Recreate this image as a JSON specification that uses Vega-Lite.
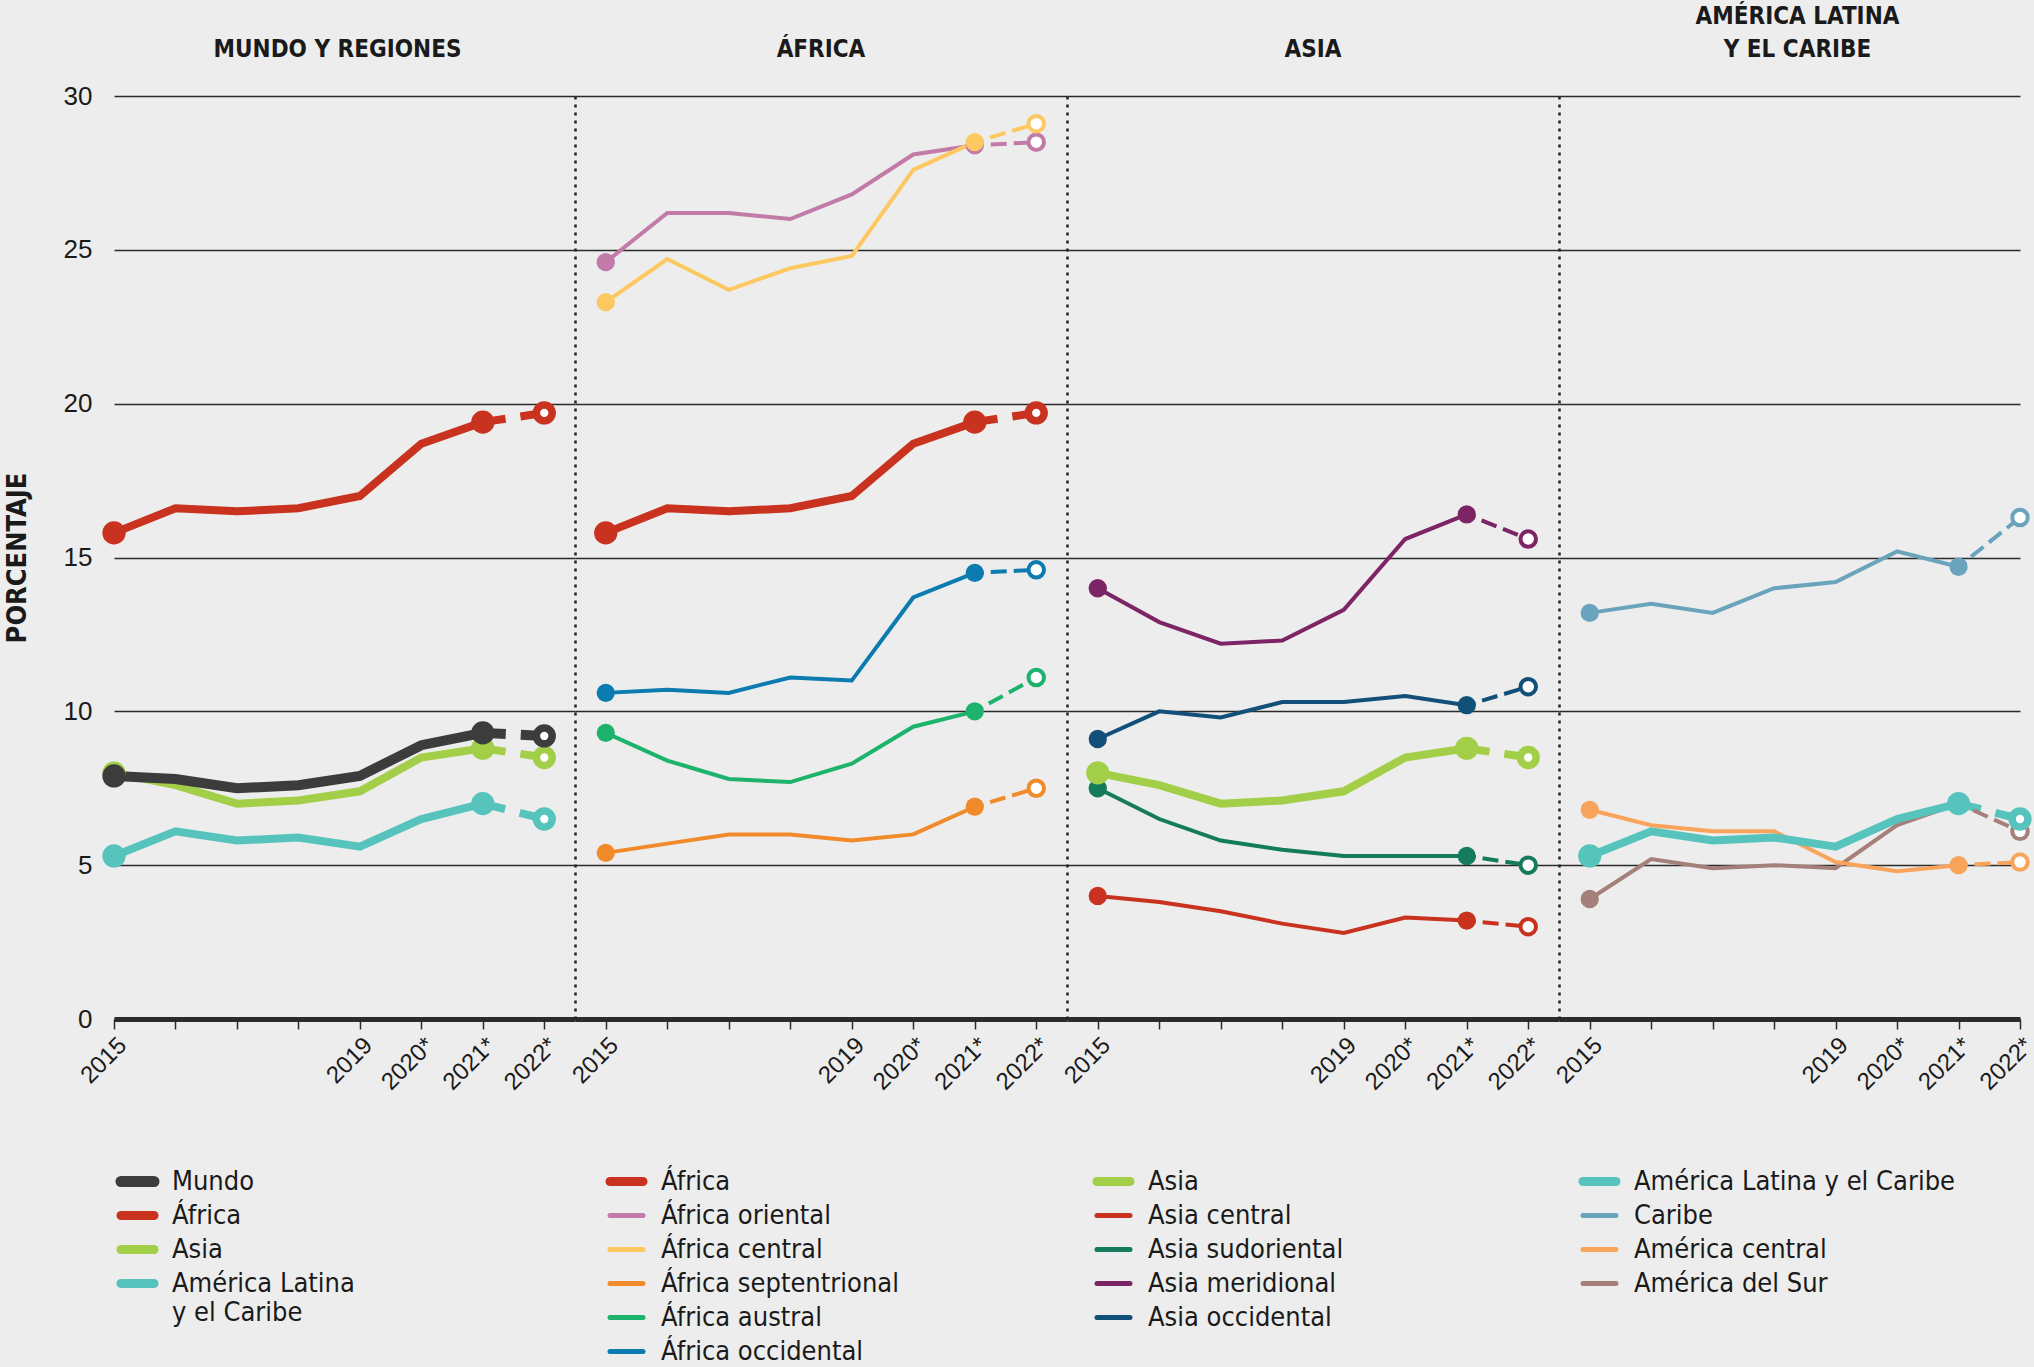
{
  "$schema": "https://vega.github.io/schema/vega-lite/v6.json",
  "background": "#ededed",
  "autosize": {"type": "pad"},
  "padding": {"left": 3, "top": 5, "right": 12, "bottom": 6},
  "data": {"values": [
    {"panel":1,"serie":"África","year":2015,"value":15.8},{"panel":1,"serie":"África","year":2016,"value":16.6},{"panel":1,"serie":"África","year":2017,"value":16.5},{"panel":1,"serie":"África","year":2018,"value":16.6},{"panel":1,"serie":"África","year":2019,"value":17.0},{"panel":1,"serie":"África","year":2020,"value":18.7},{"panel":1,"serie":"África","year":2021,"value":19.4},{"panel":1,"serie":"África","year":2022,"value":19.7},
    {"panel":1,"serie":"América Latina y el Caribe","year":2015,"value":5.3},{"panel":1,"serie":"América Latina y el Caribe","year":2016,"value":6.1},{"panel":1,"serie":"América Latina y el Caribe","year":2017,"value":5.8},{"panel":1,"serie":"América Latina y el Caribe","year":2018,"value":5.9},{"panel":1,"serie":"América Latina y el Caribe","year":2019,"value":5.6},{"panel":1,"serie":"América Latina y el Caribe","year":2020,"value":6.5},{"panel":1,"serie":"América Latina y el Caribe","year":2021,"value":7.0},{"panel":1,"serie":"América Latina y el Caribe","year":2022,"value":6.5},
    {"panel":1,"serie":"Asia","year":2015,"value":8.0},{"panel":1,"serie":"Asia","year":2016,"value":7.6},{"panel":1,"serie":"Asia","year":2017,"value":7.0},{"panel":1,"serie":"Asia","year":2018,"value":7.1},{"panel":1,"serie":"Asia","year":2019,"value":7.4},{"panel":1,"serie":"Asia","year":2020,"value":8.5},{"panel":1,"serie":"Asia","year":2021,"value":8.8},{"panel":1,"serie":"Asia","year":2022,"value":8.5},
    {"panel":1,"serie":"Mundo","year":2015,"value":7.9},{"panel":1,"serie":"Mundo","year":2016,"value":7.8},{"panel":1,"serie":"Mundo","year":2017,"value":7.5},{"panel":1,"serie":"Mundo","year":2018,"value":7.6},{"panel":1,"serie":"Mundo","year":2019,"value":7.9},{"panel":1,"serie":"Mundo","year":2020,"value":8.9},{"panel":1,"serie":"Mundo","year":2021,"value":9.3},{"panel":1,"serie":"Mundo","year":2022,"value":9.2},

    {"panel":2,"serie":"África septentrional","year":2015,"value":5.4},{"panel":2,"serie":"África septentrional","year":2016,"value":5.7},{"panel":2,"serie":"África septentrional","year":2017,"value":6.0},{"panel":2,"serie":"África septentrional","year":2018,"value":6.0},{"panel":2,"serie":"África septentrional","year":2019,"value":5.8},{"panel":2,"serie":"África septentrional","year":2020,"value":6.0},{"panel":2,"serie":"África septentrional","year":2021,"value":6.9},{"panel":2,"serie":"África septentrional","year":2022,"value":7.5},
    {"panel":2,"serie":"África austral","year":2015,"value":9.3},{"panel":2,"serie":"África austral","year":2016,"value":8.4},{"panel":2,"serie":"África austral","year":2017,"value":7.8},{"panel":2,"serie":"África austral","year":2018,"value":7.7},{"panel":2,"serie":"África austral","year":2019,"value":8.3},{"panel":2,"serie":"África austral","year":2020,"value":9.5},{"panel":2,"serie":"África austral","year":2021,"value":10.0},{"panel":2,"serie":"África austral","year":2022,"value":11.1},
    {"panel":2,"serie":"África occidental","year":2015,"value":10.6},{"panel":2,"serie":"África occidental","year":2016,"value":10.7},{"panel":2,"serie":"África occidental","year":2017,"value":10.6},{"panel":2,"serie":"África occidental","year":2018,"value":11.1},{"panel":2,"serie":"África occidental","year":2019,"value":11.0},{"panel":2,"serie":"África occidental","year":2020,"value":13.7},{"panel":2,"serie":"África occidental","year":2021,"value":14.5},{"panel":2,"serie":"África occidental","year":2022,"value":14.6},
    {"panel":2,"serie":"África oriental","year":2015,"value":24.6},{"panel":2,"serie":"África oriental","year":2016,"value":26.2},{"panel":2,"serie":"África oriental","year":2017,"value":26.2},{"panel":2,"serie":"África oriental","year":2018,"value":26.0},{"panel":2,"serie":"África oriental","year":2019,"value":26.8},{"panel":2,"serie":"África oriental","year":2020,"value":28.1},{"panel":2,"serie":"África oriental","year":2021,"value":28.4},{"panel":2,"serie":"África oriental","year":2022,"value":28.5},
    {"panel":2,"serie":"África central","year":2015,"value":23.3},{"panel":2,"serie":"África central","year":2016,"value":24.7},{"panel":2,"serie":"África central","year":2017,"value":23.7},{"panel":2,"serie":"África central","year":2018,"value":24.4},{"panel":2,"serie":"África central","year":2019,"value":24.8},{"panel":2,"serie":"África central","year":2020,"value":27.6},{"panel":2,"serie":"África central","year":2021,"value":28.5},{"panel":2,"serie":"África central","year":2022,"value":29.1},
    {"panel":2,"serie":"África","year":2015,"value":15.8},{"panel":2,"serie":"África","year":2016,"value":16.6},{"panel":2,"serie":"África","year":2017,"value":16.5},{"panel":2,"serie":"África","year":2018,"value":16.6},{"panel":2,"serie":"África","year":2019,"value":17.0},{"panel":2,"serie":"África","year":2020,"value":18.7},{"panel":2,"serie":"África","year":2021,"value":19.4},{"panel":2,"serie":"África","year":2022,"value":19.7},

    {"panel":3,"serie":"Asia central","year":2015,"value":4.0},{"panel":3,"serie":"Asia central","year":2016,"value":3.8},{"panel":3,"serie":"Asia central","year":2017,"value":3.5},{"panel":3,"serie":"Asia central","year":2018,"value":3.1},{"panel":3,"serie":"Asia central","year":2019,"value":2.8},{"panel":3,"serie":"Asia central","year":2020,"value":3.3},{"panel":3,"serie":"Asia central","year":2021,"value":3.2},{"panel":3,"serie":"Asia central","year":2022,"value":3.0},
    {"panel":3,"serie":"Asia sudoriental","year":2015,"value":7.5},{"panel":3,"serie":"Asia sudoriental","year":2016,"value":6.5},{"panel":3,"serie":"Asia sudoriental","year":2017,"value":5.8},{"panel":3,"serie":"Asia sudoriental","year":2018,"value":5.5},{"panel":3,"serie":"Asia sudoriental","year":2019,"value":5.3},{"panel":3,"serie":"Asia sudoriental","year":2020,"value":5.3},{"panel":3,"serie":"Asia sudoriental","year":2021,"value":5.3},{"panel":3,"serie":"Asia sudoriental","year":2022,"value":5.0},
    {"panel":3,"serie":"Asia occidental","year":2015,"value":9.1},{"panel":3,"serie":"Asia occidental","year":2016,"value":10.0},{"panel":3,"serie":"Asia occidental","year":2017,"value":9.8},{"panel":3,"serie":"Asia occidental","year":2018,"value":10.3},{"panel":3,"serie":"Asia occidental","year":2019,"value":10.3},{"panel":3,"serie":"Asia occidental","year":2020,"value":10.5},{"panel":3,"serie":"Asia occidental","year":2021,"value":10.2},{"panel":3,"serie":"Asia occidental","year":2022,"value":10.8},
    {"panel":3,"serie":"Asia meridional","year":2015,"value":14.0},{"panel":3,"serie":"Asia meridional","year":2016,"value":12.9},{"panel":3,"serie":"Asia meridional","year":2017,"value":12.2},{"panel":3,"serie":"Asia meridional","year":2018,"value":12.3},{"panel":3,"serie":"Asia meridional","year":2019,"value":13.3},{"panel":3,"serie":"Asia meridional","year":2020,"value":15.6},{"panel":3,"serie":"Asia meridional","year":2021,"value":16.4},{"panel":3,"serie":"Asia meridional","year":2022,"value":15.6},
    {"panel":3,"serie":"Asia","year":2015,"value":8.0},{"panel":3,"serie":"Asia","year":2016,"value":7.6},{"panel":3,"serie":"Asia","year":2017,"value":7.0},{"panel":3,"serie":"Asia","year":2018,"value":7.1},{"panel":3,"serie":"Asia","year":2019,"value":7.4},{"panel":3,"serie":"Asia","year":2020,"value":8.5},{"panel":3,"serie":"Asia","year":2021,"value":8.8},{"panel":3,"serie":"Asia","year":2022,"value":8.5},

    {"panel":4,"serie":"América del Sur","year":2015,"value":3.9},{"panel":4,"serie":"América del Sur","year":2016,"value":5.2},{"panel":4,"serie":"América del Sur","year":2017,"value":4.9},{"panel":4,"serie":"América del Sur","year":2018,"value":5.0},{"panel":4,"serie":"América del Sur","year":2019,"value":4.9},{"panel":4,"serie":"América del Sur","year":2020,"value":6.3},{"panel":4,"serie":"América del Sur","year":2021,"value":7.0},{"panel":4,"serie":"América del Sur","year":2022,"value":6.1},
    {"panel":4,"serie":"América central","year":2015,"value":6.8},{"panel":4,"serie":"América central","year":2016,"value":6.3},{"panel":4,"serie":"América central","year":2017,"value":6.1},{"panel":4,"serie":"América central","year":2018,"value":6.1},{"panel":4,"serie":"América central","year":2019,"value":5.1},{"panel":4,"serie":"América central","year":2020,"value":4.8},{"panel":4,"serie":"América central","year":2021,"value":5.0},{"panel":4,"serie":"América central","year":2022,"value":5.1},
    {"panel":4,"serie":"Caribe","year":2015,"value":13.2},{"panel":4,"serie":"Caribe","year":2016,"value":13.5},{"panel":4,"serie":"Caribe","year":2017,"value":13.2},{"panel":4,"serie":"Caribe","year":2018,"value":14.0},{"panel":4,"serie":"Caribe","year":2019,"value":14.2},{"panel":4,"serie":"Caribe","year":2020,"value":15.2},{"panel":4,"serie":"Caribe","year":2021,"value":14.7},{"panel":4,"serie":"Caribe","year":2022,"value":16.3},
    {"panel":4,"serie":"América Latina y el Caribe","year":2015,"value":5.3},{"panel":4,"serie":"América Latina y el Caribe","year":2016,"value":6.1},{"panel":4,"serie":"América Latina y el Caribe","year":2017,"value":5.8},{"panel":4,"serie":"América Latina y el Caribe","year":2018,"value":5.9},{"panel":4,"serie":"América Latina y el Caribe","year":2019,"value":5.6},{"panel":4,"serie":"América Latina y el Caribe","year":2020,"value":6.5},{"panel":4,"serie":"América Latina y el Caribe","year":2021,"value":7.0},{"panel":4,"serie":"América Latina y el Caribe","year":2022,"value":6.5}
  ]},
  "hconcat": [
    {
      "width": 461, "height": 923,
      "title": {"text": "MUNDO Y REGIONES", "offset": 21, "dx": -7},
      "transform": [{"filter": "datum.panel == 1"}],
      "encoding": {
        "x": {"field": "year", "type": "quantitative", "scale": {"domain": [2015, 2022.5], "nice": false, "zero": false}, "axis": {"values": [2015,2016,2017,2018,2019,2020,2021,2022]}},
        "y": {"field": "value", "type": "quantitative", "scale": {"domain": [0, 30], "nice": false},
              "axis": {"title": "PORCENTAJE", "values": [0,5,10,15,20,25,30], "grid": true, "domain": false, "ticks": false, "tickSize": 0, "labelPadding": 22, "labelFontSize": 26, "labelFont": "Liberation Sans", "titlePadding": 32}},
        "color": {"field": "serie", "type": "nominal",
                  "scale": {"domain": ["Mundo","África","Asia","América Latina y el Caribe"], "range": ["#3c3c3c","#c8321e","#a3ce47","#56c4bd"]},
                  "legend": {"orient": "none", "legendX": 10, "legendY": 1072, "labelExpr": "datum.label == 'América Latina y el Caribe' ? ['América Latina', 'y el Caribe'] : datum.label",
                    "encode": {"symbols": {"update": {"strokeWidth": {"signal": "datum.value === 'Mundo' ? 11 : (indexof(['África','Asia','América Latina y el Caribe'], datum.value) >= 0 ? 9 : 5)"}, "strokeCap": {"value": "round"}, "strokeJoin": {"value": "round"}}}}}}
      },
      "layer": [
        {"transform": [{"filter": "datum.year <= 2021"}], "mark": {"type": "line"}, "encoding": {"strokeWidth": {"condition": [{"test": "datum.serie === 'Mundo'", "value": 10}, {"test": "indexof(['África','Asia','América Latina y el Caribe'], datum.serie) >= 0", "value": 8}], "value": 4}}},
        {"transform": [{"filter": "datum.year >= 2021 && indexof(['Mundo','África','Asia','América Latina y el Caribe'], datum.serie) >= 0"}], "mark": {"type": "line", "strokeDash": [23, 15]}, "encoding": {"strokeWidth": {"condition": {"test": "datum.serie === 'Mundo'", "value": 10}, "value": 8}}},
        {"transform": [{"filter": "datum.year >= 2021 && indexof(['Mundo','África','Asia','América Latina y el Caribe'], datum.serie) < 0"}], "mark": {"type": "line", "strokeDash": [16, 7], "strokeDashOffset": 7, "strokeWidth": 4}},
        {"transform": [{"filter": "datum.year == 2015 || datum.year == 2021"}], "mark": {"type": "circle", "opacity": 1}, "encoding": {"size": {"condition": {"test": "indexof(['Mundo','África','Asia','América Latina y el Caribe'], datum.serie) >= 0", "value": 540}, "value": 335}}},
        {"transform": [{"filter": "datum.year == 2022"}], "mark": {"type": "point", "filled": false, "fill": "#ffffff", "fillOpacity": 1, "opacity": 1}, "encoding": {"size": {"condition": {"test": "indexof(['Mundo','África','Asia','América Latina y el Caribe'], datum.serie) >= 0", "value": 250}, "value": 240}, "strokeWidth": {"condition": {"test": "indexof(['Mundo','África','Asia','América Latina y el Caribe'], datum.serie) >= 0", "value": 7.5}, "value": 4}}}
      ]
    },
    {
      "width": 492, "height": 923,
      "title": {"text": "ÁFRICA"},
      "transform": [{"filter": "datum.panel == 2"}],
      "encoding": {
        "x": {"field": "year", "type": "quantitative", "scale": {"domain": [2014.5, 2022.5], "nice": false, "zero": false}, "axis": {"values": [2015,2016,2017,2018,2019,2020,2021,2022]}},
        "y": {"field": "value", "type": "quantitative", "scale": {"domain": [0, 30], "nice": false},
              "axis": {"title": null, "values": [0,5,10,15,20,25,30], "grid": true, "domain": true, "domainDash": [3, 5], "domainColor": "#222222", "domainWidth": 2.5, "ticks": false, "labels": false}},
        "color": {"field": "serie", "type": "nominal",
                  "scale": {"domain": ["África","África oriental","África central","África septentrional","África austral","África occidental"], "range": ["#c8321e","#c27aa8","#fdc862","#f08a2a","#1db36c","#0b7bb0"]},
                  "legend": {"orient": "none", "legendX": 38, "legendY": 1072,
                    "encode": {"symbols": {"update": {"strokeWidth": {"signal": "datum.value === 'Mundo' ? 11 : (indexof(['África','Asia','América Latina y el Caribe'], datum.value) >= 0 ? 9 : 5)"}, "strokeCap": {"value": "round"}, "strokeJoin": {"value": "round"}}}}}}
      },
      "layer": [
        {"transform": [{"filter": "datum.year <= 2021"}], "mark": {"type": "line"}, "encoding": {"strokeWidth": {"condition": [{"test": "datum.serie === 'Mundo'", "value": 10}, {"test": "indexof(['África','Asia','América Latina y el Caribe'], datum.serie) >= 0", "value": 8}], "value": 4}}},
        {"transform": [{"filter": "datum.year >= 2021 && indexof(['Mundo','África','Asia','América Latina y el Caribe'], datum.serie) >= 0"}], "mark": {"type": "line", "strokeDash": [23, 15]}, "encoding": {"strokeWidth": {"condition": {"test": "datum.serie === 'Mundo'", "value": 10}, "value": 8}}},
        {"transform": [{"filter": "datum.year >= 2021 && indexof(['Mundo','África','Asia','América Latina y el Caribe'], datum.serie) < 0"}], "mark": {"type": "line", "strokeDash": [16, 7], "strokeDashOffset": 7, "strokeWidth": 4}},
        {"transform": [{"filter": "datum.year == 2015 || datum.year == 2021"}], "mark": {"type": "circle", "opacity": 1}, "encoding": {"size": {"condition": {"test": "indexof(['Mundo','África','Asia','América Latina y el Caribe'], datum.serie) >= 0", "value": 540}, "value": 335}}},
        {"transform": [{"filter": "datum.year == 2022"}], "mark": {"type": "point", "filled": false, "fill": "#ffffff", "fillOpacity": 1, "opacity": 1}, "encoding": {"size": {"condition": {"test": "indexof(['Mundo','África','Asia','América Latina y el Caribe'], datum.serie) >= 0", "value": 250}, "value": 240}, "strokeWidth": {"condition": {"test": "indexof(['Mundo','África','Asia','América Latina y el Caribe'], datum.serie) >= 0", "value": 7.5}, "value": 4}}}
      ]
    },
    {
      "width": 492, "height": 923,
      "title": {"text": "ASIA"},
      "transform": [{"filter": "datum.panel == 3"}],
      "encoding": {
        "x": {"field": "year", "type": "quantitative", "scale": {"domain": [2014.5, 2022.5], "nice": false, "zero": false}, "axis": {"values": [2015,2016,2017,2018,2019,2020,2021,2022]}},
        "y": {"field": "value", "type": "quantitative", "scale": {"domain": [0, 30], "nice": false},
              "axis": {"title": null, "values": [0,5,10,15,20,25,30], "grid": true, "domain": true, "domainDash": [3, 5], "domainColor": "#222222", "domainWidth": 2.5, "ticks": false, "labels": false}},
        "color": {"field": "serie", "type": "nominal",
                  "scale": {"domain": ["Asia","Asia central","Asia sudoriental","Asia meridional","Asia occidental"], "range": ["#a3ce47","#c8321e","#147c5c","#7c2466","#124f79"]},
                  "legend": {"orient": "none", "legendX": 33, "legendY": 1072,
                    "encode": {"symbols": {"update": {"strokeWidth": {"signal": "datum.value === 'Mundo' ? 11 : (indexof(['África','Asia','América Latina y el Caribe'], datum.value) >= 0 ? 9 : 5)"}, "strokeCap": {"value": "round"}, "strokeJoin": {"value": "round"}}}}}}
      },
      "layer": [
        {"transform": [{"filter": "datum.year <= 2021"}], "mark": {"type": "line"}, "encoding": {"strokeWidth": {"condition": [{"test": "datum.serie === 'Mundo'", "value": 10}, {"test": "indexof(['África','Asia','América Latina y el Caribe'], datum.serie) >= 0", "value": 8}], "value": 4}}},
        {"transform": [{"filter": "datum.year >= 2021 && indexof(['Mundo','África','Asia','América Latina y el Caribe'], datum.serie) >= 0"}], "mark": {"type": "line", "strokeDash": [23, 15]}, "encoding": {"strokeWidth": {"condition": {"test": "datum.serie === 'Mundo'", "value": 10}, "value": 8}}},
        {"transform": [{"filter": "datum.year >= 2021 && indexof(['Mundo','África','Asia','América Latina y el Caribe'], datum.serie) < 0"}], "mark": {"type": "line", "strokeDash": [16, 7], "strokeDashOffset": 7, "strokeWidth": 4}},
        {"transform": [{"filter": "datum.year == 2015 || datum.year == 2021"}], "mark": {"type": "circle", "opacity": 1}, "encoding": {"size": {"condition": {"test": "indexof(['Mundo','África','Asia','América Latina y el Caribe'], datum.serie) >= 0", "value": 540}, "value": 335}}},
        {"transform": [{"filter": "datum.year == 2022"}], "mark": {"type": "point", "filled": false, "fill": "#ffffff", "fillOpacity": 1, "opacity": 1}, "encoding": {"size": {"condition": {"test": "indexof(['Mundo','África','Asia','América Latina y el Caribe'], datum.serie) >= 0", "value": 250}, "value": 240}, "strokeWidth": {"condition": {"test": "indexof(['Mundo','África','Asia','América Latina y el Caribe'], datum.serie) >= 0", "value": 7.5}, "value": 4}}}
      ]
    },
    {
      "width": 461, "height": 923,
      "title": {"text": ["AMÉRICA LATINA", "Y EL CARIBE"], "dx": 8},
      "transform": [{"filter": "datum.panel == 4"}],
      "encoding": {
        "x": {"field": "year", "type": "quantitative", "scale": {"domain": [2014.5, 2022], "nice": false, "zero": false}, "axis": {"values": [2015,2016,2017,2018,2019,2020,2021,2022]}},
        "y": {"field": "value", "type": "quantitative", "scale": {"domain": [0, 30], "nice": false},
              "axis": {"title": null, "values": [0,5,10,15,20,25,30], "grid": true, "domain": true, "domainDash": [3, 5], "domainColor": "#222222", "domainWidth": 2.5, "ticks": false, "labels": false}},
        "color": {"field": "serie", "type": "nominal",
                  "scale": {"domain": ["América Latina y el Caribe","Caribe","América central","América del Sur"], "range": ["#56c4bd","#6aa3bc","#f9a45b","#a57f79"]},
                  "legend": {"orient": "none", "legendX": 27, "legendY": 1072,
                    "encode": {"symbols": {"update": {"strokeWidth": {"signal": "datum.value === 'Mundo' ? 11 : (indexof(['África','Asia','América Latina y el Caribe'], datum.value) >= 0 ? 9 : 5)"}, "strokeCap": {"value": "round"}, "strokeJoin": {"value": "round"}}}}}}
      },
      "layer": [
        {"transform": [{"filter": "datum.year <= 2021"}], "mark": {"type": "line"}, "encoding": {"strokeWidth": {"condition": [{"test": "datum.serie === 'Mundo'", "value": 10}, {"test": "indexof(['África','Asia','América Latina y el Caribe'], datum.serie) >= 0", "value": 8}], "value": 4}}},
        {"transform": [{"filter": "datum.year >= 2021 && indexof(['Mundo','África','Asia','América Latina y el Caribe'], datum.serie) >= 0"}], "mark": {"type": "line", "strokeDash": [23, 15]}, "encoding": {"strokeWidth": {"condition": {"test": "datum.serie === 'Mundo'", "value": 10}, "value": 8}}},
        {"transform": [{"filter": "datum.year >= 2021 && indexof(['Mundo','África','Asia','América Latina y el Caribe'], datum.serie) < 0"}], "mark": {"type": "line", "strokeDash": [16, 7], "strokeDashOffset": 7, "strokeWidth": 4}},
        {"transform": [{"filter": "datum.year == 2015 || datum.year == 2021"}], "mark": {"type": "circle", "opacity": 1}, "encoding": {"size": {"condition": {"test": "indexof(['Mundo','África','Asia','América Latina y el Caribe'], datum.serie) >= 0", "value": 540}, "value": 335}}},
        {"transform": [{"filter": "datum.year == 2022"}], "mark": {"type": "point", "filled": false, "fill": "#ffffff", "fillOpacity": 1, "opacity": 1}, "encoding": {"size": {"condition": {"test": "indexof(['Mundo','África','Asia','América Latina y el Caribe'], datum.serie) >= 0", "value": 250}, "value": 240}, "strokeWidth": {"condition": {"test": "indexof(['Mundo','África','Asia','América Latina y el Caribe'], datum.serie) >= 0", "value": 7.5}, "value": 4}}}
      ]
    }
  ],
  "spacing": 0,
  "bounds": "flush",
  "resolve": {"scale": {"x": "independent", "y": "independent", "color": "independent"}, "legend": {"color": "independent"}, "axis": {"x": "independent", "y": "independent"}},
  "config": {
    "font": "DejaVu Sans Condensed, Liberation Sans",
    "view": {"stroke": null},
    "axis": {"gridColor": "#2b2b2b", "gridWidth": 1.5, "gridOpacity": 1, "labelColor": "#1a1a1a", "titleColor": "#1a1a1a", "titleFontSize": 27, "titleFontWeight": "bold", "titleFont": "DejaVu Sans Condensed, Liberation Sans"},
    "axisX": {"grid": false, "title": null, "labelExpr": "(datum.value == 2015 || datum.value == 2019) ? ('' + datum.value) : (datum.value >= 2020 ? (datum.value + '*') : '')", "labelFlush": false, "labelOverlap": false, "labelAngle": -45, "labelAlign": "right", "labelBaseline": "top", "labelFontSize": 24, "labelFont": "Liberation Sans", "labelPadding": 4, "domainColor": "#2b2b2b", "domainWidth": 5, "domainDash": [], "tickColor": "#2b2b2b", "tickWidth": 1.5, "tickSize": 10, "zindex": 1},
    "title": {"anchor": "middle", "frame": "group", "offset": 34, "fontSize": 24, "fontWeight": "bold", "color": "#1a1a1a", "lineHeight": 33, "font": "DejaVu Sans Condensed, Liberation Sans"},
    "legend": {"title": null, "direction": "vertical", "columns": 1, "symbolType": "stroke", "symbolSize": 1089, "symbolStrokeWidth": 5, "labelFontSize": 27, "labelFont": "DejaVu Sans Condensed, Liberation Sans", "labelColor": "#1a1a1a", "labelLimit": 500, "labelOffset": 21, "rowPadding": 6}
  }
}
